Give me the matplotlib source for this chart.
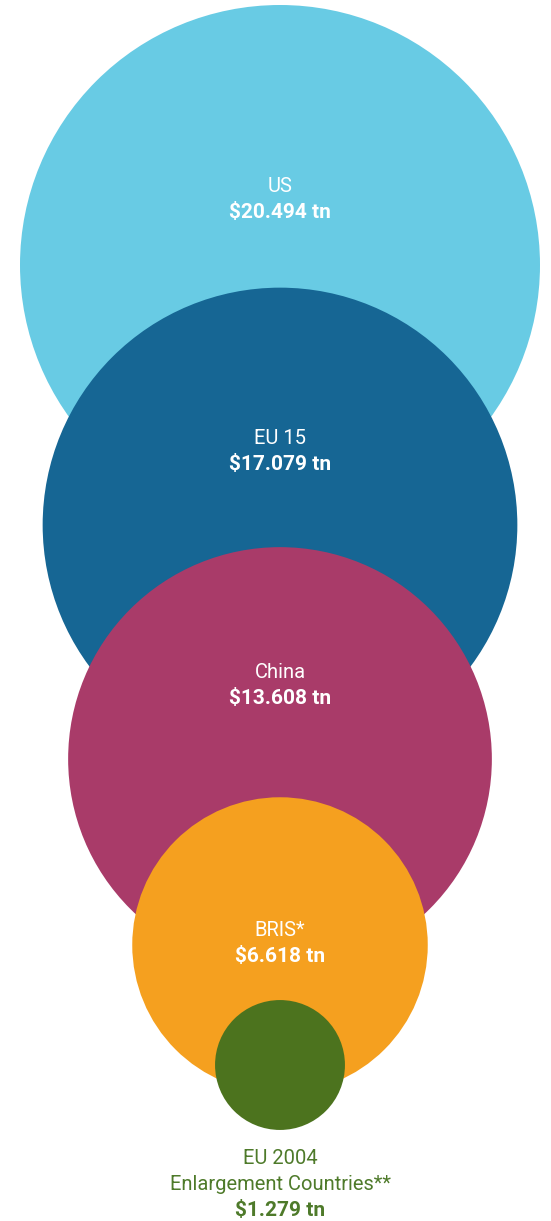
import numpy as np
import matplotlib.pyplot as plt
from matplotlib.patches import Circle

# GDP, $ trillion
names = ["US", "EU 15", "China", "BRIS*", "EU 2004\nEnlargement Countries**"]
values = [20.494, 17.079, 13.608, 6.618, 1.279]
value_labels = ["$20.494 tn", "$17.079 tn", "$13.608 tn", "$6.618 tn", "$1.279 tn"]
colors = ["#68CBE4", "#166694", "#A93B69", "#F5A01F", "#4C731E"]

# layout (pixel space)
W, H = 551, 1221
max_r = 260
cx = 280
cy = [265, 525, 759, 945, 1065]
label_y = [187, 439, 672, 931, 1159]

plt.rcParams['font.family'] = ['Roboto', 'DejaVu Sans']

fig = plt.figure(figsize=(W / 100, H / 100), dpi=100)
ax = fig.add_axes([0, 0, 1, 1])
ax.set_xlim(0, W)
ax.set_ylim(H, 0)
ax.set_aspect('equal')
ax.axis('off')

vmax = max(values)
for i, v in enumerate(values):
    r = max_r * np.sqrt(v / vmax)
    ax.add_patch(Circle((cx, cy[i]), r, facecolor=colors[i], edgecolor='none', zorder=i))
    # last one sits below its circle in green
    tc = 'white' if i < len(values) - 1 else '#4E7A2A'
    lines = names[i].split("\n")
    for j, line in enumerate(lines):
        ax.text(cx, label_y[i] + 25 * j, line, color=tc, fontsize=14.5,
                ha='center', va='center', zorder=10)
    ax.text(cx, label_y[i] + 25 * len(lines) + 1, value_labels[i], color=tc,
            fontsize=15, fontweight='bold', ha='center', va='center', zorder=10)

fig.savefig("out.png", dpi=100)
